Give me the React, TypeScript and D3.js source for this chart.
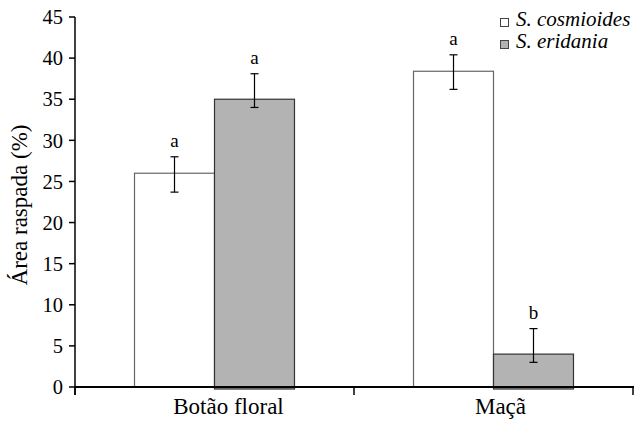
import * as d3 from 'd3';

const categories = ['Botão floral', 'Maçã'];
const series = ['S. cosmioides', 'S. eridania'];
const seriesFill = ['#ffffff', '#b3b3b3'];
// mean, upper and lower error bar ends (%)
const cosmioides = [26.0, 38.4];
const cosmioidesHi = [28.0, 40.4];
const cosmioidesLo = [23.7, 36.2];
const eridania = [35.0, 4.0];
const eridaniaHi = [38.1, 7.1];
const eridaniaLo = [34.0, 3.0];
const letters = [['a', 'a'], ['a', 'b']];
const yTicks = [0, 5, 10, 15, 20, 25, 30, 35, 40, 45];

const W = 634;
const H = 422;
const X0 = 75;
const X1 = 633;
const Y0 = 387;
const Y1 = 17;
const serif = { fontFamily: "'Liberation Serif', serif" };

export default function App() {
  const x = d3.scaleBand<string>().domain(categories).range([X0, X1]).padding(0);
  const inner = d3
    .scaleBand<string>()
    .domain(series)
    .range([0, x.bandwidth()])
    .paddingInner(0)
    .paddingOuter(0.744);
  const y = d3.scaleLinear().domain([0, 45]).range([Y0, Y1]);

  const values = [cosmioides, eridania];
  const his = [cosmioidesHi, eridaniaHi];
  const los = [cosmioidesLo, eridaniaLo];

  const bars = categories.flatMap((c, ci) =>
    series.map((s, si) => {
      const bx = (x(c) ?? 0) + (inner(s) ?? 0);
      const bw = inner.bandwidth();
      const v = values[si][ci];
      const cx = bx + bw / 2;
      return (
        <g key={c + s}>
          <rect
            x={bx}
            y={y(v)}
            width={bw}
            height={Y0 - y(v) + (si === 1 ? 2 : 0)}
            fill={seriesFill[si]}
            stroke={si === 1 ? '#333' : '#666'}
            strokeWidth={1.2}
          />
          <line x1={cx} x2={cx} y1={y(his[si][ci])} y2={y(los[si][ci])} stroke="#000" strokeWidth={1.2} />
          <line x1={cx - 4} x2={cx + 4} y1={y(his[si][ci])} y2={y(his[si][ci])} stroke="#000" strokeWidth={1.2} />
          <line x1={cx - 4} x2={cx + 4} y1={y(los[si][ci])} y2={y(los[si][ci])} stroke="#000" strokeWidth={1.2} />
          <text x={cx} y={y(his[si][ci]) - 10} textAnchor="middle" fontSize={19} style={serif}>
            {letters[si][ci]}
          </text>
        </g>
      );
    })
  );

  const xTickPos = [...categories.map((c) => x(c) ?? 0), X1];

  return (
    <svg width={W} height={H} style={{ position: 'absolute', left: 0, top: 0 }}>
      <style>{`text { font-family: 'Liberation Serif', serif !important; }`}</style>
      <rect width={W} height={H} fill="#fff" />
      {bars}
      {/* y axis */}
      <line x1={X0} x2={X0} y1={Y1} y2={Y0 + 8} stroke="#000" strokeWidth={1.5} />
      {yTicks.map((t) => (
        <g key={t}>
          <line x1={X0 - 6} x2={X0} y1={y(t)} y2={y(t)} stroke="#000" strokeWidth={1.5} />
          <text x={X0 - 12} y={y(t)} dy="0.35em" textAnchor="end" fontSize={20.5} style={serif}>
            {t}
          </text>
        </g>
      ))}
      {/* x axis */}
      <line x1={X0} x2={W} y1={Y0} y2={Y0} stroke="#000" strokeWidth={1.8} />
      {xTickPos.map((p, i) => (
        <line key={i} x1={p} x2={p} y1={Y0} y2={Y0 + 8} stroke="#000" strokeWidth={1.5} />
      ))}
      {categories.map((c, i) => (
        <text
          key={c}
          x={(x(c) ?? 0) + x.bandwidth() / 2 + (i === 0 ? 14 : 7)}
          y={414}
          textAnchor="middle"
          fontSize={23}
          style={serif}
        >
          {c}
        </text>
      ))}
      <text transform="translate(27,205) rotate(-90)" textAnchor="middle" fontSize={23} style={serif}>
        Área raspada (%)
      </text>
      {/* legend */}
      {series.map((s, i) => (
        <g key={s} transform={`translate(500,${18 + i * 22})`}>
          <rect x={0.5} y={0.5} width={8} height={8} fill={seriesFill[i]} stroke="#444" strokeWidth={1} />
          <text x={16} y={8} fontSize={21} fontStyle="italic" style={serif}>
            {s}
          </text>
        </g>
      ))}
    </svg>
  );
}
